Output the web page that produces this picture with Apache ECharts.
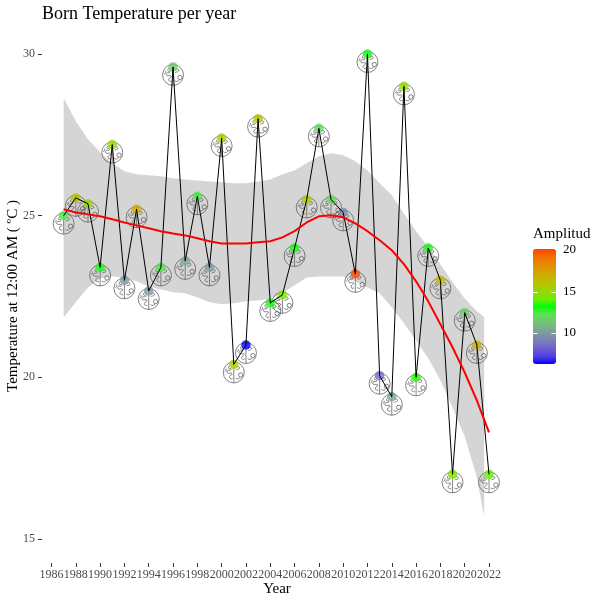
<!DOCTYPE html>
<html><head><meta charset="utf-8">
<style>html,body{margin:0;padding:0;background:#fff}#c{width:604px;height:604px}</style>
<script src="https://cdn.jsdelivr.net/npm/echarts@6/dist/echarts.min.js"></script>
</head><body><div id="c"></div>
<script>
const years = [1987,1988,1989,1990,1991,1992,1993,1994,1995,1996,1997,1998,1999,2000,2001,2002,2003,2004,2005,2006,2007,2008,2009,2010,2011,2012,2013,2014,2015,2016,2017,2018,2019,2020,2021,2022];
const temperature = [25.0,25.55,25.37,23.4,27.2,23.0,25.2,22.67,23.4,29.6,23.6,25.6,23.4,27.4,20.4,21.0,28.0,22.3,22.55,24.0,25.5,27.7,25.5,25.1,23.2,30.0,20.05,19.4,29.0,20.0,24.0,23.0,17.0,22.0,21.0,17.0];
const amplitude = [12.5,16,15,13,15,10,17,10,12.5,11.5,10.5,12.5,10,15.5,15.5,6.35,16,13,14.5,13,15.5,12,12,9.5,20,13,8.5,10.5,15,13.5,13,16.5,14.5,11.5,17,14];
const smooth = [25.20,25.10,25.04,24.98,24.89,24.79,24.70,24.61,24.52,24.45,24.39,24.30,24.21,24.14,24.14,24.14,24.18,24.21,24.33,24.52,24.79,24.98,25.01,24.95,24.76,24.52,24.24,23.93,23.50,22.97,22.35,21.64,20.93,20.15,19.29,18.30];
const bandYears = years.slice(0,35).concat([2021.6]);
const bandUpper = [28.63,27.92,27.36,26.96,26.62,26.37,26.28,26.25,26.22,26.16,26.12,26.09,26.06,26.03,26.0,26.0,26.06,26.12,26.28,26.40,26.62,26.84,26.93,26.87,26.68,26.40,26.0,25.63,25.07,24.52,24.02,23.50,22.94,22.44,22.04,21.86];
const bandLower = [21.86,22.32,22.78,23.06,23.12,23.09,22.97,22.81,22.72,22.63,22.60,22.47,22.32,22.26,22.29,22.35,22.38,22.44,22.60,22.85,23.09,23.12,23.12,23.12,22.97,22.78,22.60,22.17,21.67,21.14,20.59,19.91,19.07,18.18,16.91,15.70];
const yTicks = [15,20,25,30];
const legendMin = 6.35, legendMax = 20.1;
const legendTicks = [10,15,20];
const gradientEnds = ['#0000ff','#00ff00','#ff4500'];

function toLab(h){
  let c=[1,3,5].map(i=>parseInt(h.substr(i,2),16)/255).map(v=>v<=0.04045?v/12.92:Math.pow((v+0.055)/1.055,2.4));
  let X=(0.4124*c[0]+0.3576*c[1]+0.1805*c[2])/0.95047,Y=0.2126*c[0]+0.7152*c[1]+0.0722*c[2],Z=(0.0193*c[0]+0.1192*c[1]+0.9505*c[2])/1.08883;
  let f=t=>t>0.008856?Math.cbrt(t):7.787*t+16/116;
  return [116*f(Y)-16,500*(f(X)-f(Y)),200*(f(Y)-f(Z))];
}
function fromLab(l){
  let fy=(l[0]+16)/116,fx=l[1]/500+fy,fz=fy-l[2]/200;
  let g=t=>t*t*t>0.008856?t*t*t:(t-16/116)/7.787;
  let X=g(fx)*0.95047,Y=g(fy),Z=g(fz)*1.08883;
  let r=[3.2406*X-1.5372*Y-0.4986*Z,-0.9689*X+1.8758*Y+0.0415*Z,0.0557*X-0.2040*Y+1.0570*Z];
  return '#'+r.map(v=>{v=Math.max(0,Math.min(1,v));v=v<=0.0031308?12.92*v:1.055*Math.pow(v,1/2.4)-0.055;return Math.round(v*255).toString(16).padStart(2,'0');}).join('');
}
const stops=[];
for(let s=0;s<2;s++){const a=toLab(gradientEnds[s]),b=toLab(gradientEnds[s+1]);
  for(let i=0;i<(s?9:8);i++){const t=i/8;stops.push(fromLab(a.map((v,k)=>v+(b[k]-v)*t)));}}

const brainPath='path://M50 1A49 49 0 1 1 49.9 1ZM50 1L50 99M32 18C22 24 24 34 32 32C40 30 38 42 30 40C20 38 14 46 20 52C28 58 38 48 42 56C44 62 32 62 30 70C28 78 38 84 44 78M8 46C14 42 16 38 14 32M82 52A10 10 0 1 1 81.9 52ZM60 26C70 20 80 24 76 32C72 38 62 34 60 40M58 76C66 84 76 80 80 72';

const serif='"Liberation Serif"';
const barTop=249, barH=115, barLeft=533, barW=23;
const legY=v=>barTop+barH*(legendMax-v)/(legendMax-legendMin);
const graphics=[
  {type:'text',left:533,top:227,style:{text:'Amplitud',font:'15px '+serif,fill:'#000'},z:10},
  {type:'text',x:13,y:296,rotation:Math.PI/2,style:{text:'Temperature at 12:00 AM ( ºC )',font:'15px '+serif,fill:'#000',align:'center',verticalAlign:'middle'},z:10},
  {type:'text',x:277,y:589,style:{text:'Year',font:'15px '+serif,fill:'#000',align:'center',verticalAlign:'middle'},z:10}
];
legendTicks.forEach(v=>{
  const y=Math.round(legY(v));
  graphics.push({type:'text',left:563,top:y-7,style:{text:String(v),font:'13px '+serif,fill:'#000'},z:10});
  if(v<20){
    graphics.push({type:'rect',shape:{x:barLeft,y:y,width:4.5,height:1},style:{fill:'#fff'},z:10});
    graphics.push({type:'rect',shape:{x:barLeft+barW-4.5,y:y,width:4.5,height:1},style:{fill:'#fff'},z:10});
  }
});

const chart=echarts.init(document.getElementById('c'),null,{renderer:'canvas'});
chart.setOption({
  animation:false,backgroundColor:'#fff',
  title:{text:'Born Temperature per year',left:37,top:0,textStyle:{fontFamily:serif,fontSize:18,fontWeight:'normal',color:'#000'}},
  grid:{left:51.5,right:115,top:54,bottom:65,containLabel:false,outerBoundsMode:'none'},
  xAxis:{type:'value',min:1986,max:2022,interval:2,offset:24,
    axisLine:{show:false},axisTick:{length:4,lineStyle:{color:'#333'}},splitLine:{show:false},
    axisLabel:{margin:6,fontFamily:serif,fontSize:12,color:'#4d4d4d',formatter:v=>String(v),hideOverlap:false}},
  yAxis:{type:'value',min:15,max:30,interval:5,offset:9.5,
    axisLine:{show:false},axisTick:{length:4,lineStyle:{color:'#333'}},splitLine:{show:false},
    axisLabel:{margin:7,fontFamily:serif,fontSize:12,color:'#4d4d4d',customValues:yTicks}},
  visualMap:{type:'continuous',seriesIndex:3,dimension:2,min:legendMin,max:legendMax,left:barLeft,top:barTop,
    itemWidth:barW,itemHeight:barH,calculable:false,text:['',''],padding:0,inRange:{color:stops},hoverLink:false},
  graphic:graphics,
  series:[
    {type:'custom',silent:true,clip:false,z:1,coordinateSystem:'cartesian2d',
      encode:{x:0,y:[1,2]},
      data:bandYears.map((y,i)=>[y,bandLower[i],bandUpper[i]]),
      renderItem:(p,api)=>{
        if(p.dataIndex!==0) return null;
        const upper=bandYears.map((y,i)=>api.coord([y,bandUpper[i]]));
        const lower=bandYears.map((y,i)=>api.coord([y,bandLower[i]])).reverse();
        return {type:'polygon',shape:{points:upper.concat(lower)},style:{fill:'#d5d5d5'}};
      }},
    {type:'scatter',symbol:brainPath,symbolSize:21,symbolOffset:[0,8],clip:false,silent:true,z:2,
      itemStyle:{color:'rgba(255,255,255,0)',borderColor:'#555',borderWidth:0.9,opacity:0.8},
      data:years.map((y,i)=>[y,temperature[i]])},
    {type:'line',symbol:'none',clip:false,silent:true,z:4,lineStyle:{color:'#000',width:1},
      data:years.map((y,i)=>[y,temperature[i]])},
    {type:'scatter',symbol:'circle',symbolSize:9.5,clip:false,z:3,itemStyle:{opacity:0.8},
      data:years.map((y,i)=>[y,temperature[i],amplitude[i]])},
    {type:'line',symbol:'none',clip:false,silent:true,z:5,lineStyle:{color:'#ff0000',width:2},
      data:years.map((y,i)=>[y,smooth[i]])}
  ]
});
</script></body></html>
